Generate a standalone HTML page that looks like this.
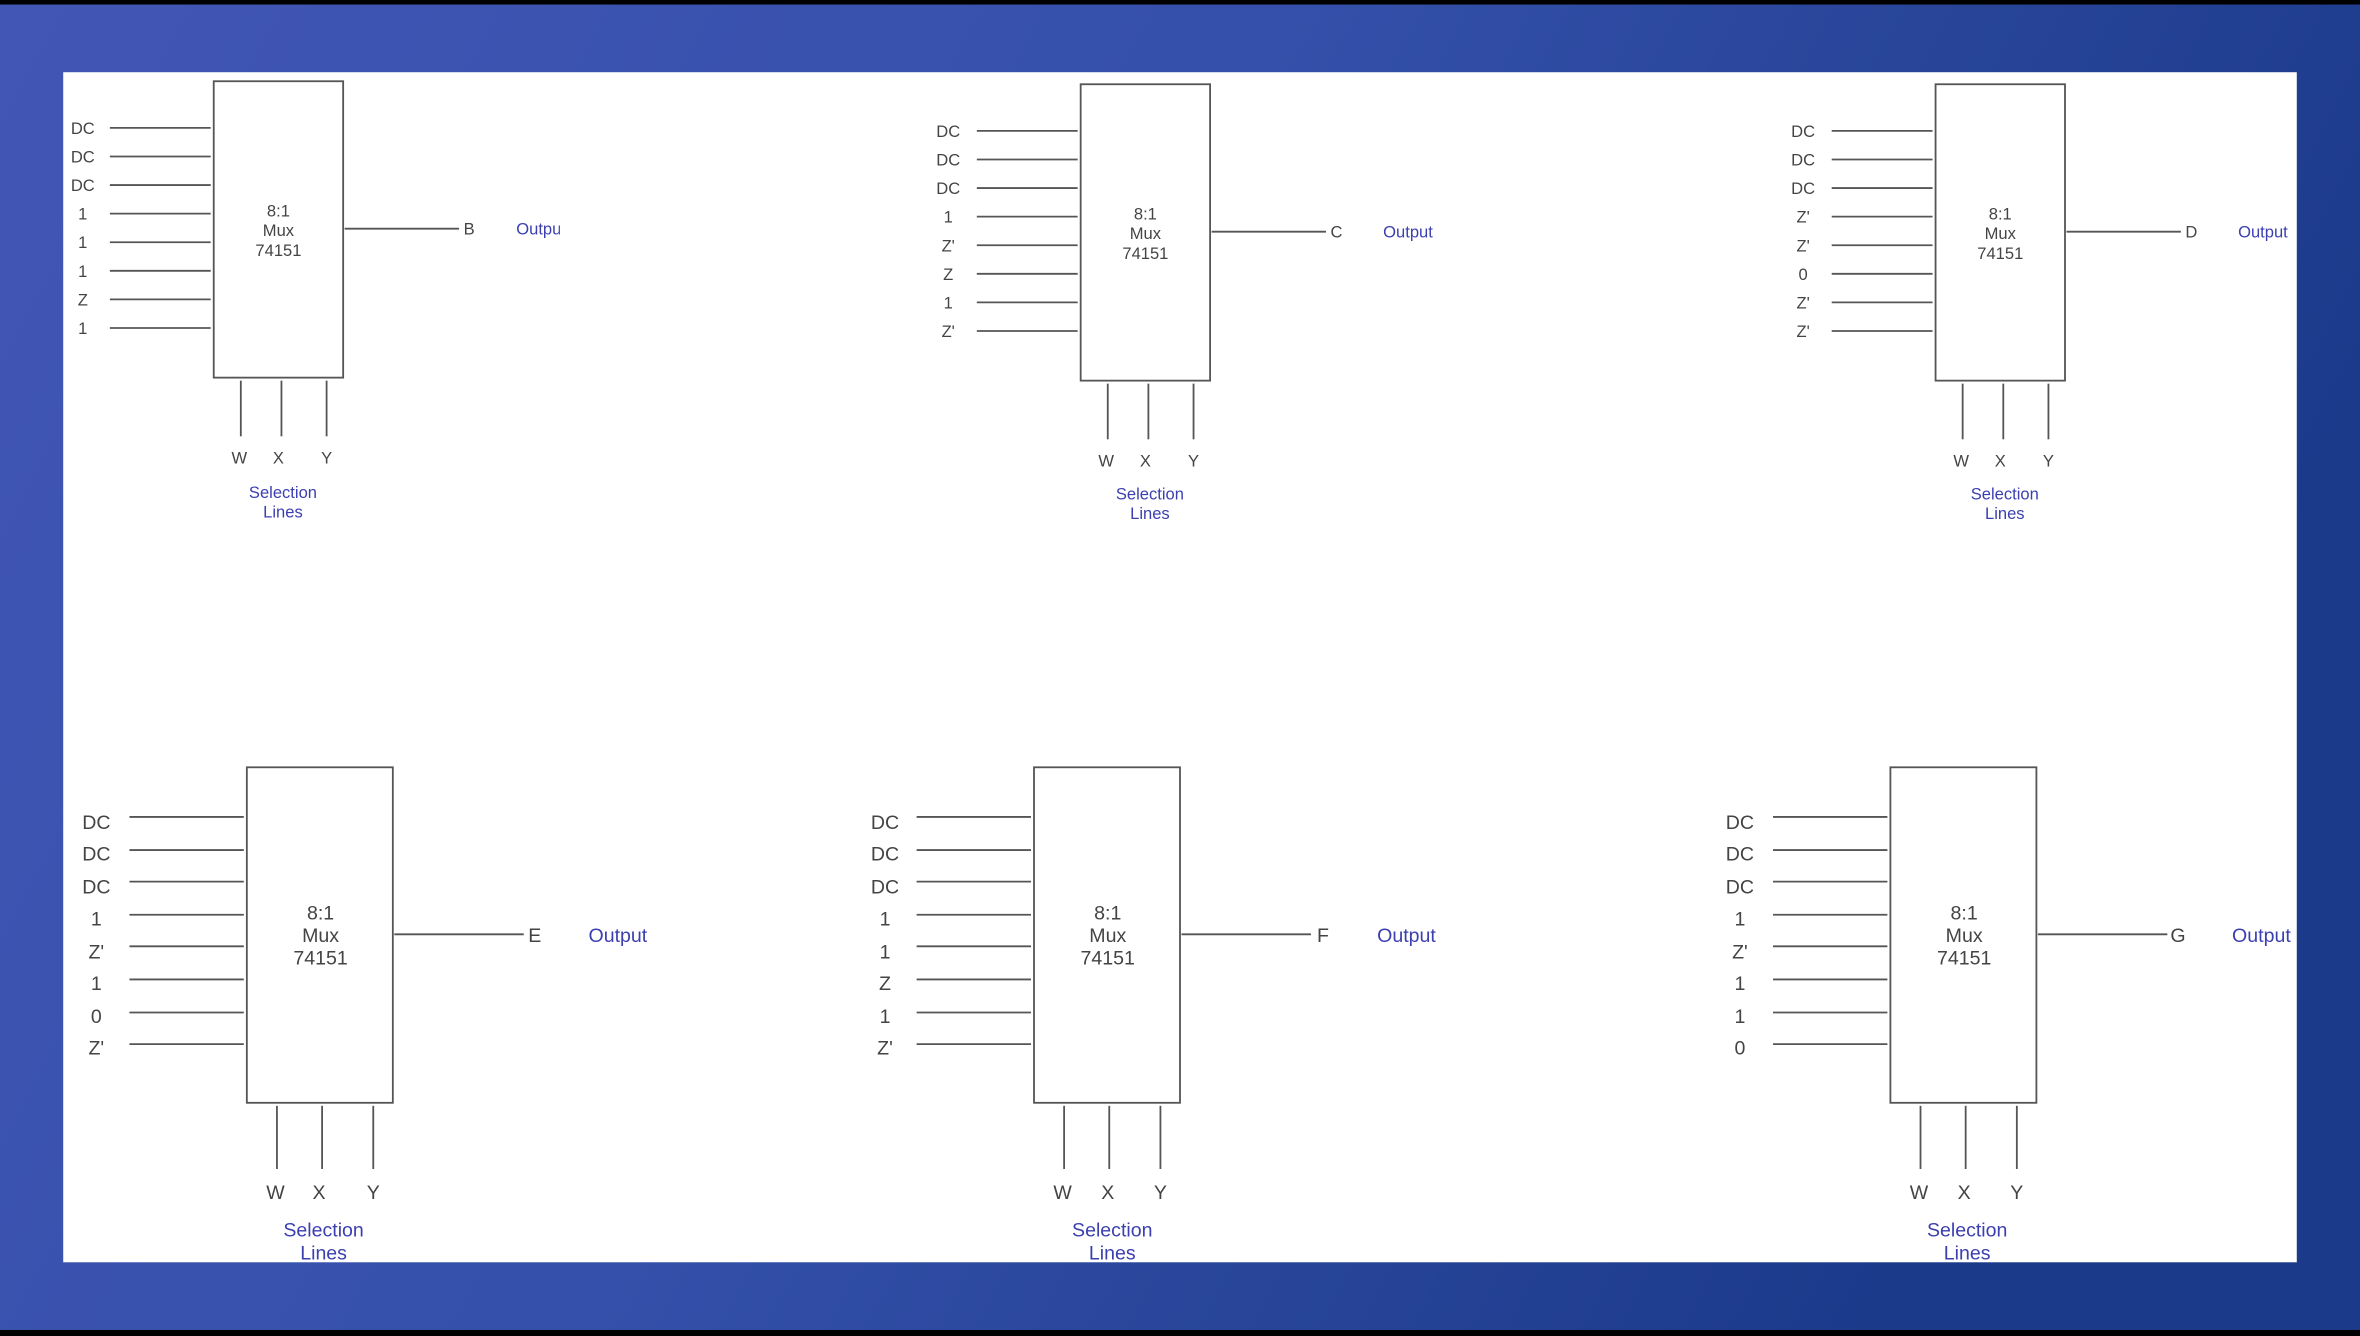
<!DOCTYPE html>
<html><head><meta charset="utf-8"><style>
html,body{margin:0;padding:0;width:2360px;height:1336px;overflow:hidden;background:#000}
svg{display:block}
text{font-family:"Liberation Sans",Arial,sans-serif}
.l{fill:#444}
.b{fill:#3b3fb0}
.ln{stroke:#555;stroke-width:1.2;fill:none}
</style></head><body>
<svg width="2360" height="1336" viewBox="0 0 1568 888" preserveAspectRatio="none">
<defs>
<linearGradient id="bg" x1="0" y1="0" x2="1" y2="0.3">
<stop offset="0" stop-color="#4256b5"/><stop offset="0.5" stop-color="#3450aa"/><stop offset="1" stop-color="#1c3a8a"/>
</linearGradient>
<clipPath id="cB"><rect x="-200" y="-100" width="430" height="500"/></clipPath>
</defs>
<rect x="0" y="0" width="1568" height="888" fill="#000"/>
<rect x="0" y="3" width="1568" height="881" fill="url(#bg)"/>
<rect x="42" y="48" width="1484" height="791" fill="#fff"/>

<g transform="translate(142,54)" font-size="11">
<rect class="ln" x="0" y="0" width="86" height="197"/>
<g class="ln">
<line x1="-69" y1="31" x2="-2" y2="31"/><line x1="-69" y1="50" x2="-2" y2="50"/><line x1="-69" y1="69" x2="-2" y2="69"/><line x1="-69" y1="88" x2="-2" y2="88"/><line x1="-69" y1="107" x2="-2" y2="107"/><line x1="-69" y1="126" x2="-2" y2="126"/><line x1="-69" y1="145" x2="-2" y2="145"/><line x1="-69" y1="164" x2="-2" y2="164"/>
<line x1="87" y1="98" x2="163" y2="98"/>
<line x1="18" y1="199" x2="18" y2="236"/><line x1="45" y1="199" x2="45" y2="236"/><line x1="75" y1="199" x2="75" y2="236"/>
</g>
<g class="l" text-anchor="middle">
<text x="-87" y="35">DC</text><text x="-87" y="54">DC</text><text x="-87" y="73">DC</text><text x="-87" y="92">1</text><text x="-87" y="111">1</text><text x="-87" y="130">1</text><text x="-87" y="149">Z</text><text x="-87" y="168">1</text>
<text x="43" y="90">8:1</text><text x="43" y="103">Mux</text><text x="43" y="116">74151</text>
<text x="17" y="254">W</text><text x="43" y="254">X</text><text x="75" y="254">Y</text>
</g>
<text class="l" x="166" y="102">B</text>
<text class="b" x="201" y="102" clip-path="url(#cB)">Output</text>
<g class="b" text-anchor="middle"><text x="46" y="277">Selection</text><text x="46" y="290">Lines</text></g>
</g>

<g transform="translate(718,56)" font-size="11">
<rect class="ln" x="0" y="0" width="86" height="197"/>
<g class="ln">
<line x1="-69" y1="31" x2="-2" y2="31"/><line x1="-69" y1="50" x2="-2" y2="50"/><line x1="-69" y1="69" x2="-2" y2="69"/><line x1="-69" y1="88" x2="-2" y2="88"/><line x1="-69" y1="107" x2="-2" y2="107"/><line x1="-69" y1="126" x2="-2" y2="126"/><line x1="-69" y1="145" x2="-2" y2="145"/><line x1="-69" y1="164" x2="-2" y2="164"/>
<line x1="87" y1="98" x2="163" y2="98"/>
<line x1="18" y1="199" x2="18" y2="236"/><line x1="45" y1="199" x2="45" y2="236"/><line x1="75" y1="199" x2="75" y2="236"/>
</g>
<g class="l" text-anchor="middle">
<text x="-88" y="35">DC</text><text x="-88" y="54">DC</text><text x="-88" y="73">DC</text><text x="-88" y="92">1</text><text x="-88" y="111">Z'</text><text x="-88" y="130">Z</text><text x="-88" y="149">1</text><text x="-88" y="168">Z'</text>
<text x="43" y="90">8:1</text><text x="43" y="103">Mux</text><text x="43" y="116">74151</text>
<text x="17" y="254">W</text><text x="43" y="254">X</text><text x="75" y="254">Y</text>
</g>
<text class="l" x="166" y="102">C</text>
<text class="b" x="201" y="102">Output</text>
<g class="b" text-anchor="middle"><text x="46" y="276">Selection</text><text x="46" y="289">Lines</text></g>
</g>

<g transform="translate(1286,56)" font-size="11">
<rect class="ln" x="0" y="0" width="86" height="197"/>
<g class="ln">
<line x1="-69" y1="31" x2="-2" y2="31"/><line x1="-69" y1="50" x2="-2" y2="50"/><line x1="-69" y1="69" x2="-2" y2="69"/><line x1="-69" y1="88" x2="-2" y2="88"/><line x1="-69" y1="107" x2="-2" y2="107"/><line x1="-69" y1="126" x2="-2" y2="126"/><line x1="-69" y1="145" x2="-2" y2="145"/><line x1="-69" y1="164" x2="-2" y2="164"/>
<line x1="87" y1="98" x2="163" y2="98"/>
<line x1="18" y1="199" x2="18" y2="236"/><line x1="45" y1="199" x2="45" y2="236"/><line x1="75" y1="199" x2="75" y2="236"/>
</g>
<g class="l" text-anchor="middle">
<text x="-88" y="35">DC</text><text x="-88" y="54">DC</text><text x="-88" y="73">DC</text><text x="-88" y="92">Z'</text><text x="-88" y="111">Z'</text><text x="-88" y="130">0</text><text x="-88" y="149">Z'</text><text x="-88" y="168">Z'</text>
<text x="43" y="90">8:1</text><text x="43" y="103">Mux</text><text x="43" y="116">74151</text>
<text x="17" y="254">W</text><text x="43" y="254">X</text><text x="75" y="254">Y</text>
</g>
<text class="l" x="166" y="102">D</text>
<text class="b" x="201" y="102">Output</text>
<g class="b" text-anchor="middle"><text x="46" y="276">Selection</text><text x="46" y="289">Lines</text></g>
</g>

<g transform="translate(164,510)" font-size="13">
<rect class="ln" x="0" y="0" width="97" height="223"/>
<g class="ln">
<line x1="-78" y1="33" x2="-2" y2="33"/><line x1="-78" y1="55" x2="-2" y2="55"/><line x1="-78" y1="76" x2="-2" y2="76"/><line x1="-78" y1="98" x2="-2" y2="98"/><line x1="-78" y1="119" x2="-2" y2="119"/><line x1="-78" y1="141" x2="-2" y2="141"/><line x1="-78" y1="163" x2="-2" y2="163"/><line x1="-78" y1="184" x2="-2" y2="184"/>
<line x1="98" y1="111" x2="184" y2="111"/>
<line x1="20" y1="225" x2="20" y2="267"/><line x1="50" y1="225" x2="50" y2="267"/><line x1="84" y1="225" x2="84" y2="267"/>
</g>
<g class="l" text-anchor="middle">
<text x="-100" y="41">DC</text><text x="-100" y="62">DC</text><text x="-100" y="84">DC</text><text x="-100" y="105">1</text><text x="-100" y="127">Z'</text><text x="-100" y="148">1</text><text x="-100" y="170">0</text><text x="-100" y="191">Z'</text>
<text x="49" y="101">8:1</text><text x="49" y="116">Mux</text><text x="49" y="131">74151</text>
<text x="19" y="287">W</text><text x="48" y="287">X</text><text x="84" y="287">Y</text>
</g>
<text class="l" x="187" y="116">E</text>
<text class="b" x="227" y="116">Output</text>
<g class="b" text-anchor="middle"><text x="51" y="312">Selection</text><text x="51" y="327">Lines</text></g>
</g>

<g transform="translate(687,510)" font-size="13">
<rect class="ln" x="0" y="0" width="97" height="223"/>
<g class="ln">
<line x1="-78" y1="33" x2="-2" y2="33"/><line x1="-78" y1="55" x2="-2" y2="55"/><line x1="-78" y1="76" x2="-2" y2="76"/><line x1="-78" y1="98" x2="-2" y2="98"/><line x1="-78" y1="119" x2="-2" y2="119"/><line x1="-78" y1="141" x2="-2" y2="141"/><line x1="-78" y1="163" x2="-2" y2="163"/><line x1="-78" y1="184" x2="-2" y2="184"/>
<line x1="98" y1="111" x2="184" y2="111"/>
<line x1="20" y1="225" x2="20" y2="267"/><line x1="50" y1="225" x2="50" y2="267"/><line x1="84" y1="225" x2="84" y2="267"/>
</g>
<g class="l" text-anchor="middle">
<text x="-99" y="41">DC</text><text x="-99" y="62">DC</text><text x="-99" y="84">DC</text><text x="-99" y="105">1</text><text x="-99" y="127">1</text><text x="-99" y="148">Z</text><text x="-99" y="170">1</text><text x="-99" y="191">Z'</text>
<text x="49" y="101">8:1</text><text x="49" y="116">Mux</text><text x="49" y="131">74151</text>
<text x="19" y="287">W</text><text x="49" y="287">X</text><text x="84" y="287">Y</text>
</g>
<text class="l" x="188" y="116">F</text>
<text class="b" x="228" y="116">Output</text>
<g class="b" text-anchor="middle"><text x="52" y="312">Selection</text><text x="52" y="327">Lines</text></g>
</g>

<g transform="translate(1256,510)" font-size="13">
<rect class="ln" x="0" y="0" width="97" height="223"/>
<g class="ln">
<line x1="-78" y1="33" x2="-2" y2="33"/><line x1="-78" y1="55" x2="-2" y2="55"/><line x1="-78" y1="76" x2="-2" y2="76"/><line x1="-78" y1="98" x2="-2" y2="98"/><line x1="-78" y1="119" x2="-2" y2="119"/><line x1="-78" y1="141" x2="-2" y2="141"/><line x1="-78" y1="163" x2="-2" y2="163"/><line x1="-78" y1="184" x2="-2" y2="184"/>
<line x1="98" y1="111" x2="184" y2="111"/>
<line x1="20" y1="225" x2="20" y2="267"/><line x1="50" y1="225" x2="50" y2="267"/><line x1="84" y1="225" x2="84" y2="267"/>
</g>
<g class="l" text-anchor="middle">
<text x="-100" y="41">DC</text><text x="-100" y="62">DC</text><text x="-100" y="84">DC</text><text x="-100" y="105">1</text><text x="-100" y="127">Z'</text><text x="-100" y="148">1</text><text x="-100" y="170">1</text><text x="-100" y="191">0</text>
<text x="49" y="101">8:1</text><text x="49" y="116">Mux</text><text x="49" y="131">74151</text>
<text x="19" y="287">W</text><text x="49" y="287">X</text><text x="84" y="287">Y</text>
</g>
<text class="l" x="186" y="116">G</text>
<text class="b" x="227" y="116">Output</text>
<g class="b" text-anchor="middle"><text x="51" y="312">Selection</text><text x="51" y="327">Lines</text></g>
</g>
</svg>
</body></html>
